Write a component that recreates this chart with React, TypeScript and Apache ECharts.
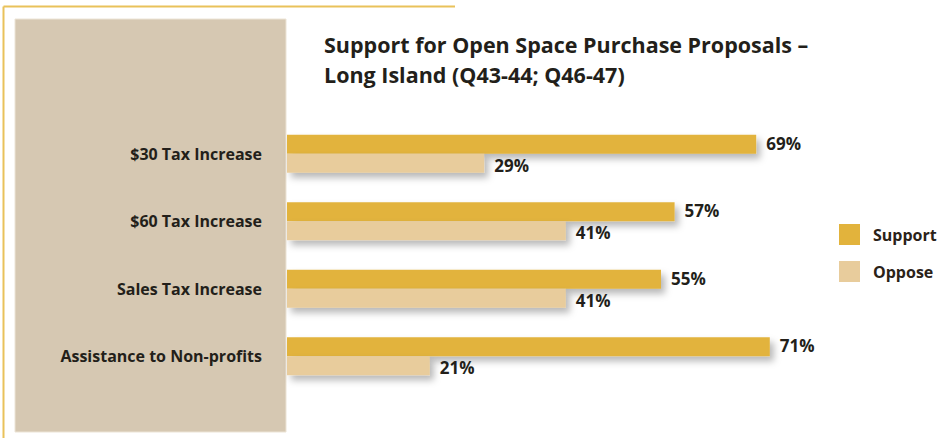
import React, { useEffect, useRef } from "react";
import * as echarts from "echarts";

const categories = ["$30 Tax Increase", "$60 Tax Increase", "Sales Tax Increase", "Assistance to Non-profits"];
const supportValues = [69, 57, 55, 71];
const opposeValues = [29, 41, 41, 21];
const seriesNames = ["Support", "Oppose"];
const titleLines = ["Support for Open Space Purchase Proposals –", "Long Island (Q43-44; Q46-47)"];

const FONT = "'Open Sans', 'Noto Sans', 'DejaVu Sans', sans-serif";
const SUPPORT = "#E2B33C";
const OPPOSE = "#E8CC9C";
const TEXT = "#231f1a";

export default function App() {
  const ref = useRef<HTMLDivElement>(null);
  useEffect(() => {
    document.body.style.margin = "0";
    if (!ref.current) return;
    const chart = echarts.init(ref.current, null, { renderer: "svg" });
    const shadow = {
      shadowColor: "rgba(0,0,0,0.28)",
      shadowBlur: 7,
      shadowOffsetX: 4,
      shadowOffsetY: 5,
    };
    const valueLabel = (dy: number) => ({
      show: true,
      position: "right",
      distance: 10,
      offset: [0, dy],
      formatter: "{c}%",
      fontFamily: FONT,
      fontSize: 17,
      fontWeight: "bold",
      color: TEXT,
    });
    chart.setOption({
      animation: false,
      backgroundColor: "#ffffff",
      title: {
        text: titleLines.join("\n"),
        left: 324,
        top: 29,
        padding: 0,
        textStyle: {
          fontFamily: FONT,
          fontSize: 21.5,
          fontWeight: "bold",
          color: TEXT,
          lineHeight: 30,
        },
      },
      graphic: [
        { type: "line", shape: { x1: 3.5, y1: 6.5, x2: 455, y2: 6.5 }, style: { stroke: "#E9C25A", lineWidth: 2 }, z: -1 },
        { type: "line", shape: { x1: 3.5, y1: 6.5, x2: 3.5, y2: 438 }, style: { stroke: "#E9C25A", lineWidth: 2 }, z: -1 },
        { type: "rect", shape: { x: 15, y: 19, width: 271, height: 413 }, style: { fill: "#D6C8B2", stroke: "#ECE4D6", lineWidth: 1 }, z: -1 },
      ],
      legend: {
        data: seriesNames,
        orient: "vertical",
        left: 839,
        top: 224,
        padding: 0,
        itemWidth: 21,
        itemHeight: 21,
        itemGap: 16,
        icon: "rect",
        textStyle: { fontFamily: FONT, fontSize: 16, fontWeight: "bold", color: "#2b2218", padding: [3, 0, 0, 8] },
      },
      grid: { left: 287, top: 120, width: 544, height: 270 },
      xAxis: {
        type: "value",
        min: 0,
        max: 80,
        show: false,
      },
      yAxis: {
        type: "category",
        data: categories,
        inverse: true,
        axisLine: { show: false },
        axisTick: { show: false },
        splitLine: { show: false },
        axisLabel: {
          margin: 25,
          fontFamily: FONT,
          fontSize: 16,
          fontWeight: "bold",
          color: TEXT,
        },
      },
      series: [
        {
          name: seriesNames[0],
          type: "bar",
          data: supportValues,
          barWidth: 19,
          barGap: "0%",
          itemStyle: { color: SUPPORT, ...shadow },
          label: valueLabel(-1),
        },
        {
          name: seriesNames[1],
          type: "bar",
          data: opposeValues,
          barWidth: 19,
          barGap: "0%",
          itemStyle: { color: OPPOSE, ...shadow },
          label: valueLabel(2),
        },
      ],
    });
    return () => chart.dispose();
  }, []);
  return <div ref={ref} style={{ width: 938, height: 438 }} />;
}
